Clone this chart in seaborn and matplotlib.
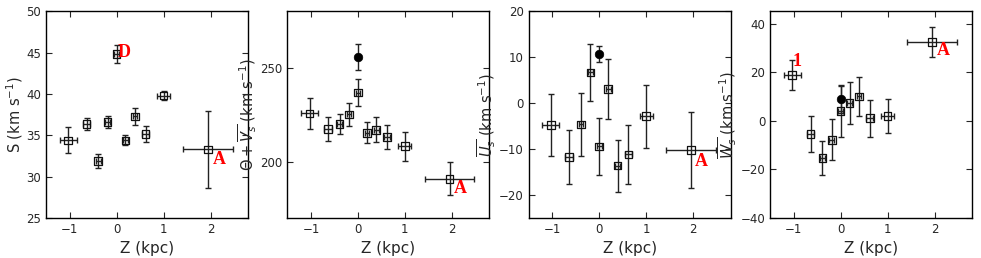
import numpy as np
import pandas as pd
import matplotlib
matplotlib.use("Agg")
import matplotlib.pyplot as plt
import seaborn as sns

# bin centres in Z and their half widths
z = [-1.03, -0.64, -0.39, -0.19, 0.0, 0.19, 0.39, 0.62, 1.0, 1.95]
z_err = [0.18, 0.08, 0.05, 0.05, 0.05, 0.05, 0.05, 0.07, 0.14, 0.53]

S = [34.4, 36.4, 31.9, 36.6, 44.85, 34.4, 37.3, 35.15, 39.8, 33.3]
S_err = [1.55, 0.7, 0.85, 0.7, 1.05, 0.6, 1.0, 1.0, 0.55, 4.7]

theta = [225.7, 217.5, 220.2, 225.1, 236.8, 215.4, 217.0, 213.2, 208.3, 190.9]
theta_err = [8.1, 6.5, 5.3, 6.0, 7.4, 5.7, 6.6, 6.5, 7.7, 8.9]

U = [-4.8, -11.7, -4.6, 6.7, -9.4, 3.1, -13.6, -11.15, -2.8, -10.2]
U_err = [6.7, 5.95, 6.9, 6.2, 6.2, 6.45, 5.65, 6.4, 6.85, 8.2]

W = [18.7, -5.35, -15.4, -7.8, 4.0, 7.4, 10.0, 1.1, 1.9, 32.4]
W_err = [6.2, 7.5, 7.1, 8.5, 10.7, 8.55, 8.2, 7.6, 7.05, 6.3]

# extra filled point at Z = 0 (panels 2-4)
dot_z = 0.0
dot_theta, dot_theta_err = 255.5, 6.9
dot_U, dot_U_err = 10.7, 1.75
dot_W, dot_W_err = 8.9, 5.6

sns.set_style("ticks")
plt.rcParams.update({
    "font.family": ["DejaVu Sans"],
    "xtick.direction": "in",
    "ytick.direction": "in",
    "xtick.top": True,
    "ytick.right": True,
    "xtick.major.size": 4,
    "ytick.major.size": 4,
    "axes.edgecolor": "black",
    "axes.linewidth": 1.0,
    "xtick.labelsize": 8.5,
    "ytick.labelsize": 8.5,
    "axes.labelsize": 10.5,
})

fig, axes = plt.subplots(1, 4, figsize=(9.81, 2.58), dpi=100)
fig.subplots_adjust(left=0.047, right=0.991, bottom=0.155, top=0.956, wspace=0.195)

panels = [
    (S, S_err, None, r"S (km s$^{-1}$)", (25, 50), [25, 30, 35, 40, 45, 50]),
    (theta, theta_err, (dot_theta, dot_theta_err), r"$\Theta+\overline{V_s}$ (km s$^{-1}$)", (170, 280), [200, 250]),
    (U, U_err, (dot_U, dot_U_err), r"$\overline{U_s}$ (km s$^{-1}$)", (-25, 20), [-20, -10, 0, 10, 20]),
    (W, W_err, (dot_W, dot_W_err), r"$\overline{W_s}$ (km s$^{-1}$)", (-40, 45), [-40, -20, 0, 20, 40]),
]

ebar = dict(fmt="none", ecolor="#222222", elinewidth=1.0, capsize=2.5, capthick=1.0)
lab = dict(color="red", fontsize=13, fontweight="bold", family=["Liberation Serif", "DejaVu Serif"],
           ha="center", va="center")

for ax, (vals, errs, dot, ylabel, ylim, yticks) in zip(axes, panels):
    df = pd.DataFrame({"z": z, "v": vals})
    ax.errorbar(z, vals, yerr=errs, xerr=z_err, zorder=2, **ebar)
    sns.scatterplot(data=df, x="z", y="v", ax=ax, marker="s", s=30,
                    facecolors="none", edgecolors="#111111", linewidth=0.9, zorder=3)
    if dot is not None:
        ax.errorbar([dot_z], [dot[0]], yerr=[dot[1]], zorder=2, **ebar)
        sns.scatterplot(x=[dot_z], y=[dot[0]], ax=ax, color="black", s=38,
                        edgecolor="black", zorder=4)
    ax.set_xlim(-1.5, 2.8)
    ax.set_ylim(*ylim)
    ax.set_xticks([-1, 0, 1, 2])
    ax.set_yticks(yticks)
    ax.set_xlabel("Z (kpc)", fontsize=11)
    ax.set_ylabel(ylabel, labelpad=1)

# red annotations
axes[0].text(0.16, 45.0, "D", **lab)
axes[0].text(2.18, 32.1, "A", **lab)
axes[1].text(2.18, 185.6, "A", **lab)
axes[2].text(2.18, -12.6, "A", **lab)
axes[3].text(2.18, 29.1, "A", **lab)
axes[3].text(-0.92, 24.3, "1", **lab)

fig.savefig("out.png", dpi=100)
